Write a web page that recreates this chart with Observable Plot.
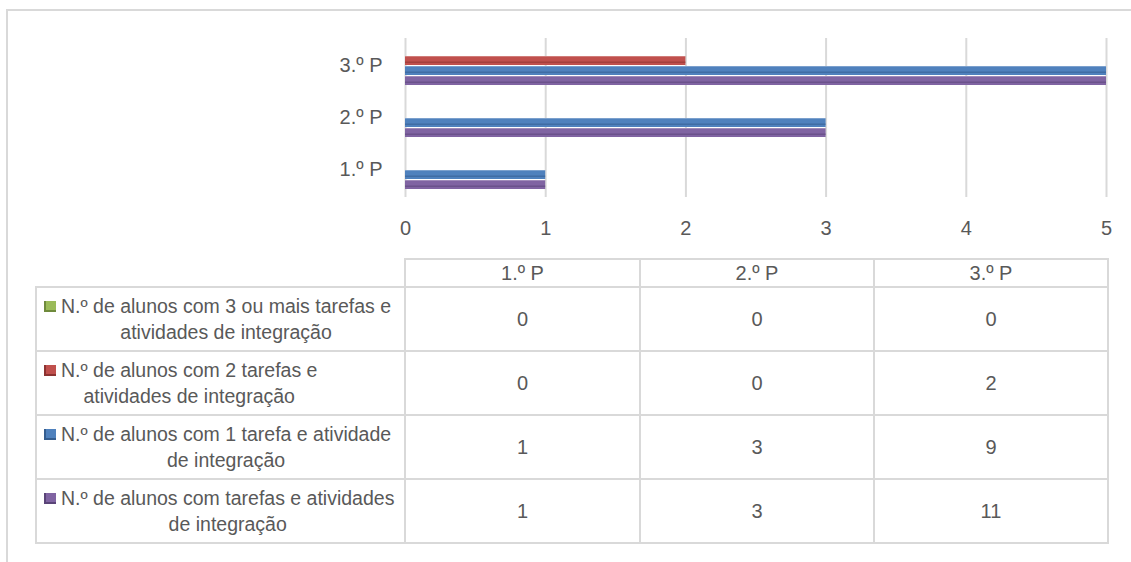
<!DOCTYPE html>
<html>
<head>
<meta charset="utf-8">
<script src="https://cdn.jsdelivr.net/npm/d3@7"></script>
<script src="https://cdn.jsdelivr.net/npm/@observablehq/plot@0.6"></script>
<style>
  html, body { margin: 0; padding: 0; background: #fff; }
  body { width: 1131px; height: 562px; position: relative; overflow: hidden;
         font-family: "Liberation Sans Narrow", "Arial Narrow", "Liberation Sans", sans-serif; color: #595959; }
  #frame { position: absolute; left: 6px; top: 9px; width: 1140px; height: 600px;
           border-top: 2px solid #d9d9d9; border-left: 2px solid #d9d9d9; }
  #chart { position: absolute; left: 0; top: 0; }
  #tbl { position: absolute; left: 35px; top: 258px; border-collapse: collapse; table-layout: fixed; }
  #tbl td { border: 2px solid #d9d9d9; text-align: center; font-size: 20px; color: #595959; padding: 0; line-height: 26px; }
  #tbl td.empty { border: none; }
  #tbl tr.head td { height: 26px; }
  #tbl tr.row td { height: 62px; }
  #tbl td.lab { text-align: left; padding-left: 7px; font-size: 19.5px; }
  .labwrap { display: flex; align-items: flex-start; }
  .key { flex: none; width: 12px; height: 11px; margin-top: 8px; margin-right: 5px; box-sizing: border-box; }
  .txt { display: inline-block; white-space: pre; text-align: center; }
</style>
</head>
<body>
<div id="frame"></div>
<div id="chart"></div>
<table id="tbl"></table>
<script>
const categories = ["1.º P", "2.º P", "3.º P"];
const seriesNames = [
  "N.º de alunos com 3 ou mais tarefas e\natividades de integração",
  "N.º de alunos com 2 tarefas e\natividades de integração",
  "N.º de alunos com 1 tarefa e atividade\nde integração",
  "N.º de alunos com tarefas e atividades\nde integração"
];
const seriesColors = ["#9BBB59", "#C0504D", "#4F81BD", "#8064A2"];
const seriesDark = ["#6f8a3c", "#8c3331", "#345d8f", "#5a4478"];
const values3plus = [0, 0, 0];
const values2 = [0, 0, 2];
const values1 = [1, 3, 9];
const valuesAny = [1, 3, 11];
const allValues = [values3plus, values2, values1, valuesAny];
const xTicks = [0, 1, 2, 3, 4, 5];
const xDomain = [0, 5];

const W = 1131, H = 250;
const bandTotal = 40; // px of each category band used by bars
const nS = seriesNames.length;
const barH = bandTotal / nS;

const marks = [
  Plot.ruleX(xTicks, {stroke: "#d9d9d9", strokeWidth: 2})
];
allValues.forEach((vals, i) => {
  const data = categories.map((c, j) => ({cat: c, v: vals[j]}));
  const top = i * barH, bottom = (nS - 1 - i) * barH;
  marks.push(Plot.barX(data, {y: "cat", x: "v", fill: seriesColors[i], insetTop: top, insetBottom: bottom, clip: true}));
  marks.push(Plot.barX(data, {y: "cat", x: "v", fill: seriesDark[i], fillOpacity: 0.55, insetTop: top + barH * 0.55, insetBottom: bottom + barH * 0.2, clip: true}));
  marks.push(Plot.barX(data, {y: "cat", x: "v", fill: "#ffffff", fillOpacity: 0.25, insetTop: top, insetBottom: bottom + barH * 0.8, clip: true}));
});

const chart = Plot.plot({
  width: W, height: H,
  marginLeft: 405, marginRight: 25, marginTop: 38, marginBottom: 53,
  style: {fontFamily: "'Liberation Sans Narrow', 'Arial Narrow', 'Liberation Sans', sans-serif", fontSize: "20px", color: "#595959", background: "transparent"},
  x: {domain: xDomain, ticks: xTicks, tickFormat: d => String(d), tickSize: 0, tickPadding: 23, label: null},
  y: {domain: categories.slice().reverse(), paddingInner: 0.245, paddingOuter: 0.1226, tickSize: 0, tickPadding: 23, label: null},
  marks
});
document.getElementById("chart").appendChild(chart);

// data table
const tbl = document.getElementById("tbl");
const colW = [369, 235, 234, 234];
const cg = document.createElement("colgroup");
colW.forEach(w => { const c = document.createElement("col"); c.style.width = w + "px"; cg.appendChild(c); });
tbl.appendChild(cg);
const head = document.createElement("tr"); head.className = "head";
const e = document.createElement("td"); e.className = "empty"; head.appendChild(e);
categories.forEach(c => { const td = document.createElement("td"); td.textContent = c; head.appendChild(td); });
tbl.appendChild(head);
seriesNames.forEach((name, i) => {
  const tr = document.createElement("tr"); tr.className = "row";
  const lab = document.createElement("td"); lab.className = "lab";
  const wrap = document.createElement("div"); wrap.className = "labwrap";
  const key = document.createElement("span"); key.className = "key";
  key.style.background = seriesColors[i];
  key.style.borderLeft = "2px solid " + seriesDark[i];
  key.style.borderBottom = "2px solid " + seriesDark[i];
  const txt = document.createElement("span"); txt.className = "txt";
  txt.textContent = name;
  wrap.appendChild(key);
  wrap.appendChild(txt);
  lab.appendChild(wrap);
  tr.appendChild(lab);
  allValues[i].forEach(v => { const td = document.createElement("td"); td.textContent = v; tr.appendChild(td); });
  tbl.appendChild(tr);
});
</script>
</body>
</html>
